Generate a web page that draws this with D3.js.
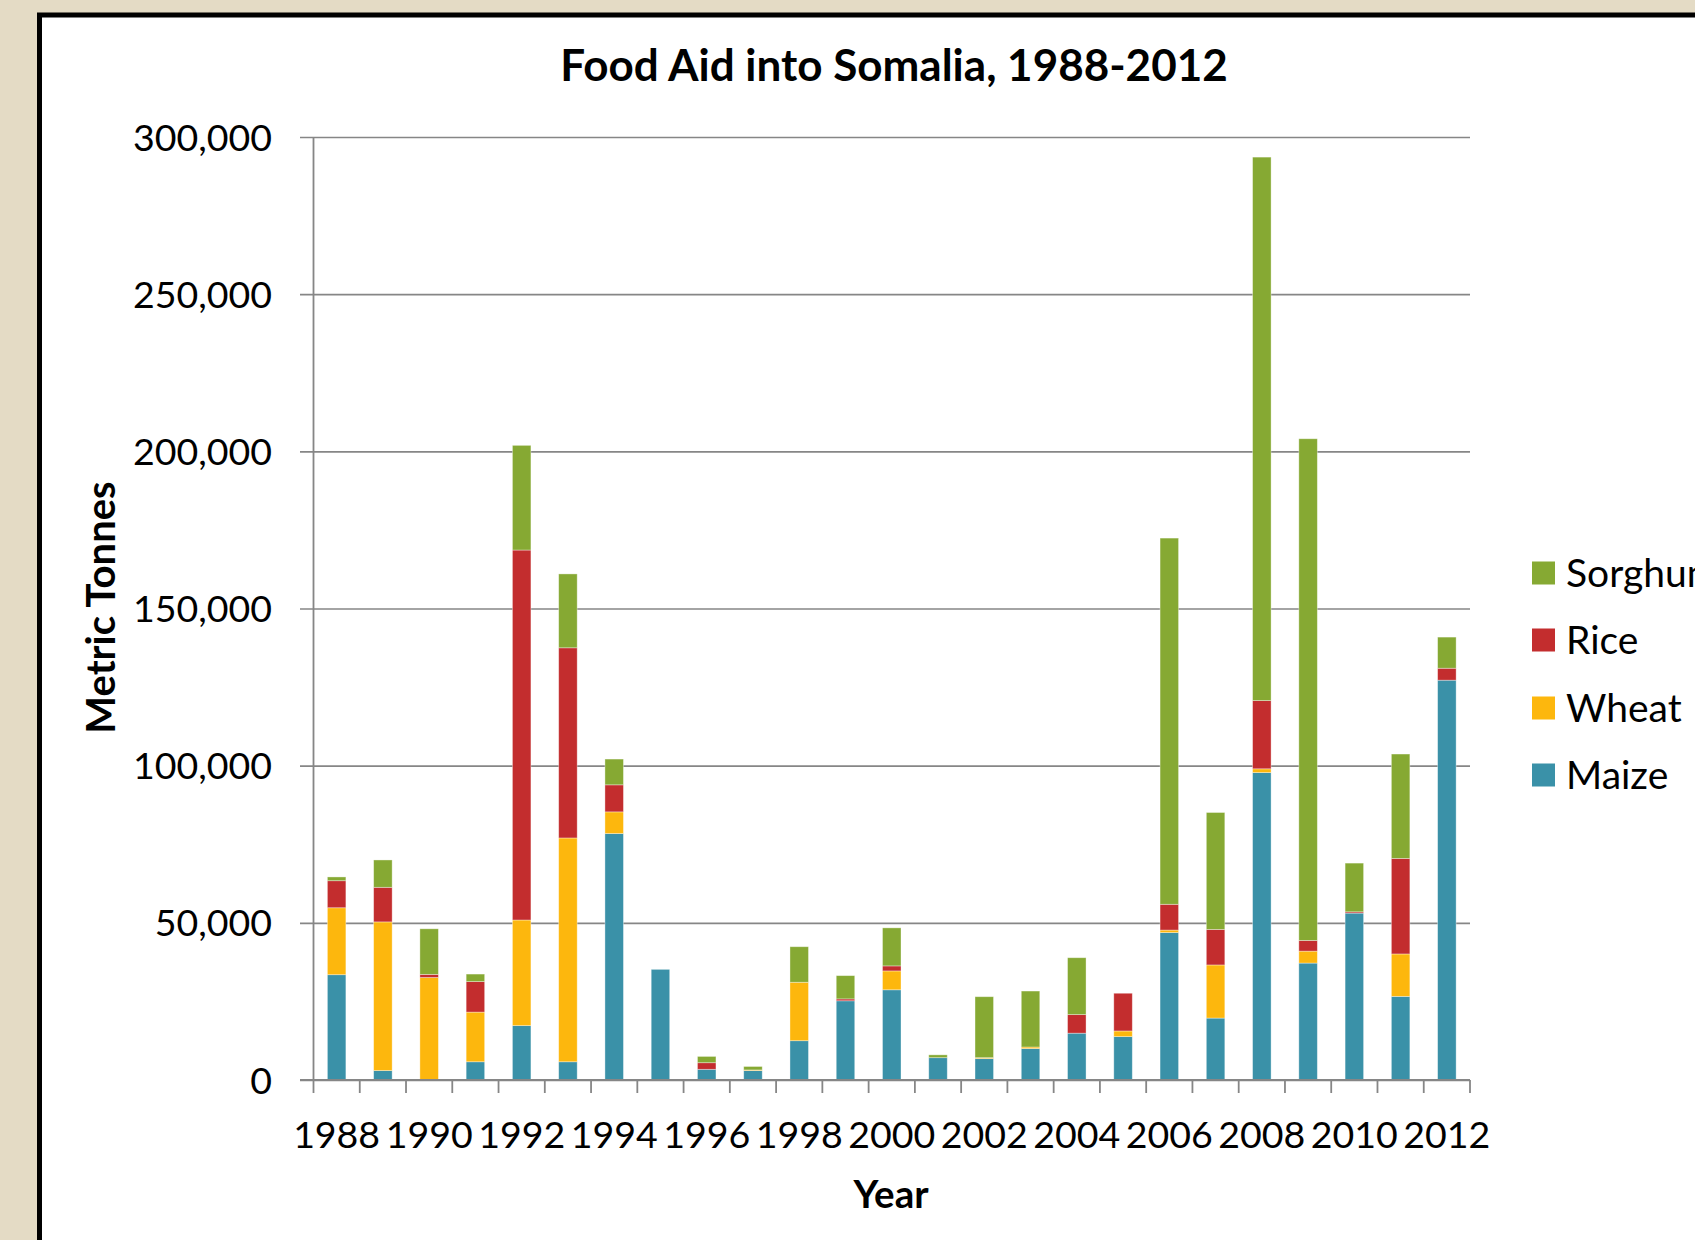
<!DOCTYPE html>
<html>
<head>
<meta charset="utf-8">
<script src="https://cdn.jsdelivr.net/npm/d3@7"></script>
<style>
  html, body { margin: 0; padding: 0; background: #E4DBC5; }
  svg { display: block; }
</style>
</head>
<body>
<svg id="chart" width="1695" height="1240"></svg>
<script>
const years = [1988,1989,1990,1991,1992,1993,1994,1995,1996,1997,1998,1999,2000,2001,2002,2003,2004,2005,2006,2007,2008,2009,2010,2011,2012];
const maize   = [33500, 3000, 0, 5800, 17300, 5800, 78400, 35200, 3400, 3000, 12500, 25200, 28700, 7100, 6800, 10000, 14900, 13800, 46900, 19700, 97800, 37200, 53100, 26600, 127200];
const wheat   = [21300, 47300, 32600, 15800, 33600, 71200, 6900, 0, 0, 200, 18600, 0, 6000, 0, 300, 500, 0, 1800, 800, 16900, 1200, 3800, 0, 13500, 0];
const rice    = [8600, 11000, 1000, 9700, 117700, 60500, 8600, 0, 2100, 0, 0, 600, 1600, 0, 0, 0, 5900, 12000, 8200, 11300, 21700, 3400, 400, 30400, 3800];
const sorghum = [1200, 8700, 14500, 2400, 33300, 23500, 8200, 0, 2000, 1100, 11300, 7400, 12100, 900, 19400, 17800, 18100, 0, 116500, 37200, 172900, 159600, 15500, 33200, 9900];
const seriesNames = ["Maize", "Wheat", "Rice", "Sorghum"];
const seriesColors = ["#3A91A8", "#FDB70D", "#C32D2E", "#86A933"];
const yTicks = [0, 50000, 100000, 150000, 200000, 250000, 300000];
const xLabelYears = [1988,1990,1992,1994,1996,1998,2000,2002,2004,2006,2008,2010,2012];
const titleText = "Food Aid into Somalia, 1988-2012";
const yTitle = "Metric Tonnes";
const xTitle = "Year";

const svg = d3.select("#chart");
const FONT = "Lato, 'Open Sans', sans-serif";

// background panel
svg.append("rect").attr("x", 0).attr("y", 0).attr("width", 1695).attr("height", 1240).attr("fill", "#E4DBC5");
svg.append("rect").attr("x", 39.5).attr("y", 15).attr("width", 1700).attr("height", 1300)
  .attr("fill", "#ffffff").attr("stroke", "#000").attr("stroke-width", 5);

const x0 = 313.5, x1 = 1470, yBase = 1080, yTop = 137;
const x = d3.scaleBand().domain(years).range([x0, x1]).paddingInner(0.6).paddingOuter(0.3);
const y = d3.scaleLinear().domain([0, 300000]).range([yBase, yTop]);

// table for stacking
const table = years.map((yr, i) => ({ year: yr, Maize: maize[i], Wheat: wheat[i], Rice: rice[i], Sorghum: sorghum[i] }));
const stacked = d3.stack().keys(seriesNames)(table);

// gridlines + y axis
const yAxis = d3.axisLeft(y).tickValues(yTicks).tickSize(x1 - x0 + 13.5).tickFormat(d3.format(","));
const gY = svg.append("g").attr("transform", `translate(${x1},0)`).call(yAxis);
gY.select(".domain").remove();
gY.selectAll(".tick line").attr("stroke", "#868686").attr("stroke-width", 1.6);
gY.selectAll(".tick text").attr("x", -(x1 - 272)).attr("dx", 0).attr("dy", "0.35em")
  .attr("font-family", FONT).attr("font-size", 37.5).attr("fill", "#000").attr("text-anchor", "end");

// bars
const layers = svg.append("g").selectAll("g").data(stacked).join("g")
  .attr("fill", (d, i) => seriesColors[i]);
layers.selectAll("rect").data(d => d).join("rect")
  .attr("x", d => x(d.data.year))
  .attr("width", x.bandwidth())
  .attr("y", d => y(d[1]))
  .attr("height", d => Math.max(0, y(d[0]) - y(d[1])))
  .attr("stroke", "rgba(255,255,255,0.45)").attr("stroke-width", 0.8);

// y axis line
svg.append("line").attr("x1", x0).attr("x2", x0).attr("y1", yTop).attr("y2", yBase)
  .attr("stroke", "#868686").attr("stroke-width", 1.8);

// x axis: ticks at category boundaries
const step = x.step();
const boundaries = d3.range(years.length + 1).map(k => x0 + k * step);
const gX = svg.append("g");
gX.append("line").attr("x1", x0 - 13.5).attr("x2", x1).attr("y1", yBase).attr("y2", yBase)
  .attr("stroke", "#868686").attr("stroke-width", 2);
gX.selectAll("line.tk").data(boundaries).join("line").attr("class", "tk")
  .attr("x1", d => d).attr("x2", d => d).attr("y1", yBase).attr("y2", yBase + 13)
  .attr("stroke", "#868686").attr("stroke-width", 1.8);
gX.selectAll("text").data(xLabelYears).join("text")
  .attr("x", d => x(d) + x.bandwidth() / 2).attr("y", 1135).attr("dy", "0.35em")
  .attr("text-anchor", "middle").attr("font-family", FONT).attr("font-size", 37.5).attr("fill", "#000")
  .text(d => d);

// titles
svg.append("text").attr("x", 894).attr("y", 81).attr("text-anchor", "middle")
  .attr("font-family", FONT).attr("font-weight", "bold").attr("font-size", 44).attr("fill", "#000")
  .text(titleText);
svg.append("text").attr("transform", "translate(100.5,607.5) rotate(-90)").attr("dy", "0.35em")
  .attr("text-anchor", "middle").attr("font-family", FONT).attr("font-weight", "bold").attr("font-size", 40).attr("fill", "#000")
  .text(yTitle);
svg.append("text").attr("x", 891).attr("y", 1194.5).attr("dy", "0.35em")
  .attr("text-anchor", "middle").attr("font-family", FONT).attr("font-weight", "bold").attr("font-size", 38.5).attr("fill", "#000")
  .text(xTitle);

// legend (top-down: Sorghum, Rice, Wheat, Maize)
const legendOrder = [3, 2, 1, 0];
const legendY = [573, 640, 708, 775];
const lg = svg.append("g");
legendOrder.forEach((si, k) => {
  lg.append("rect").attr("x", 1532).attr("y", legendY[k] - 11.5).attr("width", 23).attr("height", 23)
    .attr("fill", seriesColors[si]);
  lg.append("text").attr("x", 1566).attr("y", legendY[k]).attr("dy", "0.35em")
    .attr("font-family", FONT).attr("font-size", 39).attr("fill", "#000").text(seriesNames[si]);
});
</script>
</body>
</html>
